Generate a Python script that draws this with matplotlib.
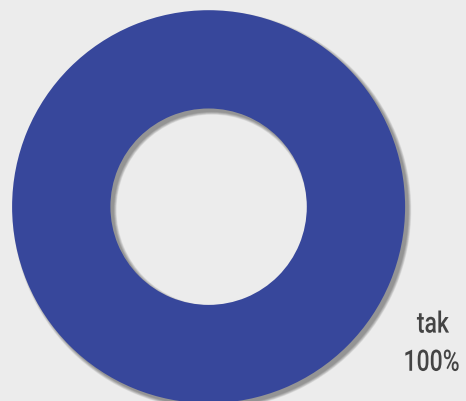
import matplotlib.pyplot as plt
from matplotlib.textpath import TextPath
from matplotlib.patches import PathPatch
from matplotlib.font_manager import FontProperties
from matplotlib.transforms import Affine2D

labels = ['tak']
values = [100]

bg = '#ececec'
ring_color = '#37479b'
text_color = '#444444'

W, H = 466, 401

fig = plt.figure(figsize=(W / 100, H / 100), dpi=100, facecolor=bg)
ax = fig.add_axes([0, 0, 1, 1])
ax.set_facecolor(bg)
ax.axis('off')

cx, cy = 208.6, H - 206.7
r_out = 196.5
ring_w = 98.3

# soft drop shadow: stacked translucent rings, offset down-right
for k in range(10):
    grow = k * 0.33
    ax.pie(values, radius=r_out + grow, center=(cx + 3.3, cy - 3.3),
           colors=['#000000'],
           wedgeprops=dict(width=ring_w + 2 * grow, alpha=0.045, linewidth=0))

ax.pie(values, radius=r_out, center=(cx, cy), colors=[ring_color],
       wedgeprops=dict(width=ring_w, linewidth=0), startangle=90)

ax.set_xlim(0, W)
ax.set_ylim(0, H)
ax.set_aspect('equal')

# narrow label type: Roboto outlines squeezed horizontally
prop = FontProperties(family='Roboto', weight='medium')
font_size = 29.5
squeeze = 0.78


def put_label(s, xc, yc):
    tp = TextPath((0, 0), s, size=font_size, prop=prop)
    ext = tp.get_extents()
    tr = (Affine2D()
          .translate(-(ext.x0 + ext.x1) / 2, -(ext.y0 + ext.y1) / 2)
          .scale(squeeze, 1)
          .translate(xc, yc))
    ax.add_patch(PathPatch(tr.transform_path(tp), facecolor=text_color,
                           linewidth=0))


total = sum(values)
pct = values[0] / total * 100
put_label(labels[0], 433, H - 321.7)
put_label(f'{pct:.0f}%', 432, H - 360.3)

fig.savefig('out.png', dpi=100, facecolor=bg)
